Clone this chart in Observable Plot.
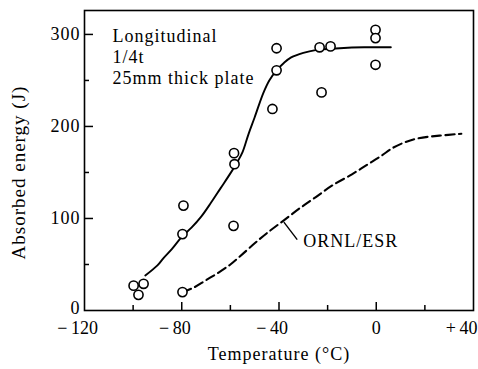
<!DOCTYPE html>
<html>
<head>
<meta charset="utf-8">
<script src="https://cdn.jsdelivr.net/npm/d3@7"></script>
<script src="https://cdn.jsdelivr.net/npm/@observablehq/plot@0.6"></script>
<style>
  body { margin: 0; background: #fff; }
  g[aria-label="x-axis tick label"] text { letter-spacing: 0; }
</style>
</head>
<body>
<div id="chart"></div>
<script>
// Charpy test results: longitudinal specimens, 1/4t, 25 mm thick plate
const testTemp   = [-99.8, -95.7, -97.8, -79.3, -79.7, -79.7, -58.7, -58.5, -58.3, -41, -41, -42.7, -23.3, -18.8, -22.5, -0.3, -0.3, -0.3];
const testEnergy = [27, 29, 17, 114, 83, 20, 92, 171, 159, 285, 261, 219, 286, 287, 237, 305, 296, 267];

// Transition curve fitted through the test points
const fitTemp   = [-95, -90, -87.5, -84, -80, -76, -72, -68, -64, -60, -57, -55, -52.5, -50, -46.5, -44, -41, -38, -35, -30, -25, -15, -5, 6];
const fitEnergy = [38, 49, 57, 67, 80, 90, 102, 117, 133, 149, 162, 172, 192, 210, 236, 250, 261, 269, 275, 280, 283, 285, 286, 286];

// ORNL/ESR reference curve
const ornlTemp   = [-79.7, -75, -70, -65, -60, -56, -50, -45, -38, -31, -25, -18, -10, -4, 2, 7, 12, 17, 26, 35];
const ornlEnergy = [20, 25, 33, 41, 50, 59, 73, 84, 98, 112, 123, 136, 148, 158, 168, 177, 183, 187, 190, 192];

// Axis ticks and labels
const xNegativeLabels = [-120, -80, -40];
const xZeroLabel = [0];
const xPositiveLabels = [40];
const xMajorTicks = [-80, -40, 0];
const xMinorTicks = [-100, -60, -20, 20];
const yZeroLabel = [0];
const yLabelTicks = [100, 200, 300];
const yMajorTicks = [100, 200, 300];
const yMinorTicks = [50, 150, 250];

const headerLines = ["Longitudinal", "1/4t", "25mm thick plate"];
const curveLabel = "ORNL/ESR";
const xTitle = "Temperature (°C)";
const yTitle = "Absorbed energy (J)";

const tests = testTemp.map((t, i) => ({t, e: testEnergy[i]}));
const fit = fitTemp.map((t, i) => ({t, e: fitEnergy[i]}));
const ornl = ornlTemp.map((t, i) => ({t, e: ornlEnergy[i]}));

// signed temperature labels: "− 120", "0", "+ 40"
const signed = d => d < 0 ? "\u2212\u2009" + (-d) : d > 0 ? "+\u2009" + d : "0";

const chart = Plot.plot({
  width: 478,
  height: 369,
  marginLeft: 84,
  marginRight: 5,
  marginTop: 10,
  marginBottom: 59,
  x: {domain: [-120, 40]},
  y: {domain: [0, 326]},
  style: {
    fontFamily: "'Liberation Serif', 'DejaVu Serif', serif",
    fontSize: "18px",
    letterSpacing: "1px",
    color: "#000",
    background: "#fff"
  },
  marks: [
    // inward tick marks
    Plot.axisX(xMajorTicks, {tickSize: -8, fill: "none", label: null, strokeWidth: 1.5}),
    Plot.axisX(xMinorTicks, {tickSize: -5, fill: "none", label: null, strokeWidth: 1.5}),
    Plot.axisY(yMajorTicks, {tickSize: -9, fill: "none", label: null, strokeWidth: 1.5}),
    Plot.axisY(yMinorTicks, {tickSize: -5, fill: "none", label: null, strokeWidth: 1.5}),
    // tick labels
    Plot.axisX(xNegativeLabels, {tickSize: 0, tickPadding: 11, tickFormat: signed, dx: -7, label: null}),
    Plot.axisX(xZeroLabel, {tickSize: 0, tickPadding: 11, tickFormat: signed, label: null}),
    Plot.axisX(xPositiveLabels, {tickSize: 0, tickPadding: 11, tickFormat: signed, dx: -12, label: null}),
    Plot.axisY(yLabelTicks, {tickSize: 0, tickPadding: 4, label: null}),
    Plot.axisY(yZeroLabel, {tickSize: 0, tickPadding: 4, dy: -2, label: null}),
    Plot.frame({stroke: "black", strokeWidth: 1.6}),
    // axis titles
    Plot.text([xTitle], {text: d => d, frameAnchor: "bottom", textAnchor: "middle", dy: 44, lineAnchor: "middle"}),
    Plot.text([yTitle], {text: d => d, frameAnchor: "left", textAnchor: "middle", rotate: -90, dx: -66, dy: 12, lineAnchor: "middle", fontSize: 19}),
    // specimen description
    ...headerLines.map((line, i) => Plot.text([line], {
      text: d => d, frameAnchor: "top-left", textAnchor: "start", lineAnchor: "middle",
      dx: 28, dy: 26 + 20.8 * i
    })),
    // curves
    Plot.line(ornl, {x: "t", y: "e", curve: "catmull-rom", stroke: "black", strokeWidth: 2.1, strokeDasharray: "9,4.5"}),
    Plot.line(fit, {x: "t", y: "e", curve: "catmull-rom", stroke: "black", strokeWidth: 1.9}),
    // leader and label for the reference curve
    Plot.link([{x1: -38, y1: 96, x2: -32.5, y2: 77}], {x1: "x1", y1: "y1", x2: "x2", y2: "y2", stroke: "black", strokeWidth: 1.4}),
    Plot.text([{t: -30, e: 75, s: curveLabel}], {x: "t", y: "e", text: "s", textAnchor: "start", lineAnchor: "middle"}),
    // test points
    Plot.dot(tests, {x: "t", y: "e", r: 4.6, stroke: "black", fill: "white", strokeWidth: 1.6})
  ]
});

document.getElementById("chart").appendChild(chart);
</script>
</body>
</html>
